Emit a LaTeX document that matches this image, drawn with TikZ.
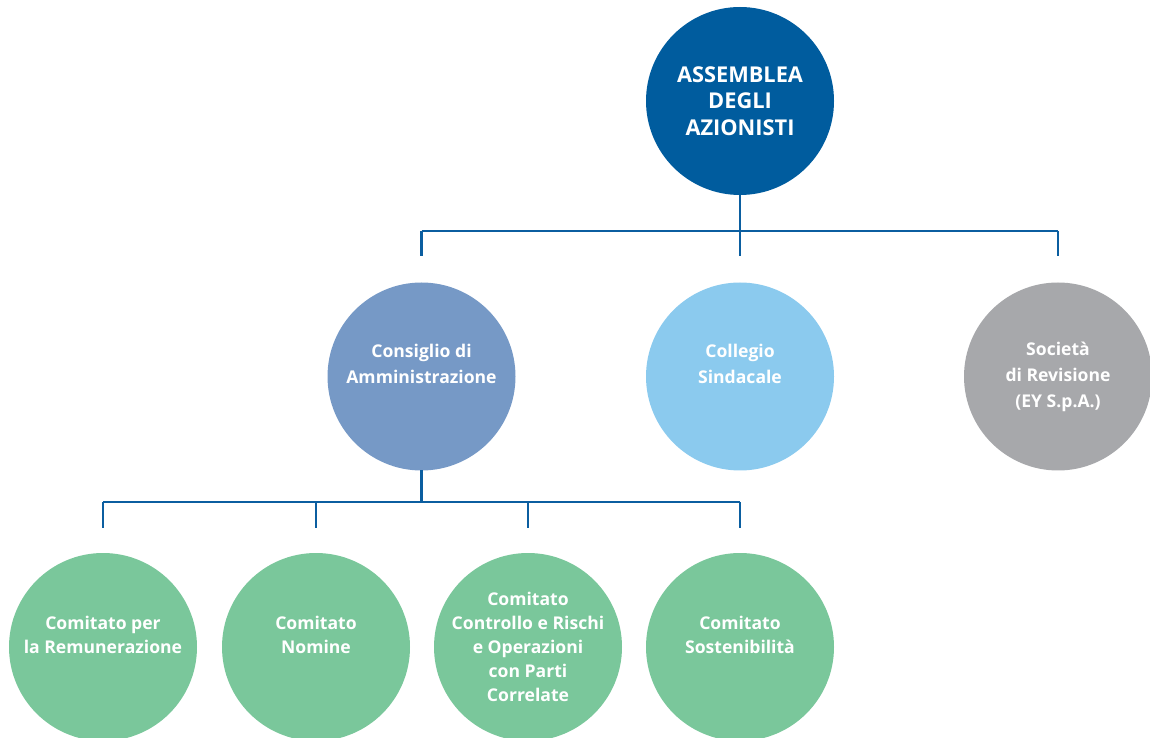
\documentclass[tikz,border=0pt]{standalone}
\usepackage{fontspec}
\setmainfont{Open Sans}
\usetikzlibrary{positioning,calc}
\definecolor{assblue}{HTML}{005C9E}
\definecolor{cdablue}{HTML}{7699C6}
\definecolor{csblue}{HTML}{8BCAEE}
\definecolor{revgrey}{HTML}{A7A8AB}
\definecolor{comgreen}{HTML}{7AC79B}
\definecolor{linkblue}{HTML}{0B5EA0}

\begin{document}
\begin{tikzpicture}[
    organ/.style={circle,minimum size=3.76cm,inner sep=0pt,outer sep=0pt,align=center,text=white,font=\fontsize{10}{14.8}\selectfont\bfseries},
    top/.style={organ,fill=assblue,font=\fontsize{12.4}{15}\selectfont\bfseries},
    comm/.style={organ,fill=comgreen,font=\fontsize{10}{13.6}\selectfont\bfseries},
    link/.style={draw=linkblue,line width=1.6pt}
  ]
    \useasboundingbox (0,0) rectangle (23,-14.76);

    % Assemblea
    \node[top] (ass) at (14.80,-2.02) {ASSEMBLEA\\DEGLI\\AZIONISTI};

    % Second level
    \node[organ,fill=cdablue] (cda) at (8.43,-7.53) {Consiglio di\\Amministrazione\\~};
    \node[organ,fill=csblue] (cs) at (14.80,-7.53) {Collegio\\Sindacale\\~};
    \node[organ,fill=revgrey] (rev) at (21.16,-7.53) {Società\\di Revisione\\(EY S.p.A.)};

    % Committees
    \node[comm] (crem) at (2.06,-12.94) {Comitato per\\la Remunerazione\\~};
    \node[comm] (cnom) at (6.32,-12.94) {Comitato\\Nomine\\~};
    \node[comm] (ccr) at (10.56,-12.94) {Comitato\\Controllo e Rischi\\e Operazioni\\con Parti\\Correlate};
    \node[comm] (csost) at (14.80,-12.94) {Comitato\\Sostenibilità\\~};

    % Connectors from Assemblea
    \coordinate (bus1) at (0,-4.62);
    \draw[link] (ass.south) -- (ass.south |- bus1);
    \draw[link] (cda.north |- bus1) -- (rev.north |- bus1);
    \foreach \n in {cda,cs,rev}
      \draw[link] (\n.north |- bus1) -- ($(\n.north)+(0,0.52)$);

    % Connectors from Consiglio
    \coordinate (bus2) at (0,-10.04);
    \draw[link] (cda.south) -- (cda.south |- bus2);
    \draw[link] (crem.north |- bus2) -- (csost.north |- bus2);
    \foreach \n in {crem,cnom,ccr,csost}
      \draw[link] (\n.north |- bus2) -- ($(\n.north)+(0,0.5)$);
  \end{tikzpicture}
\end{document}
